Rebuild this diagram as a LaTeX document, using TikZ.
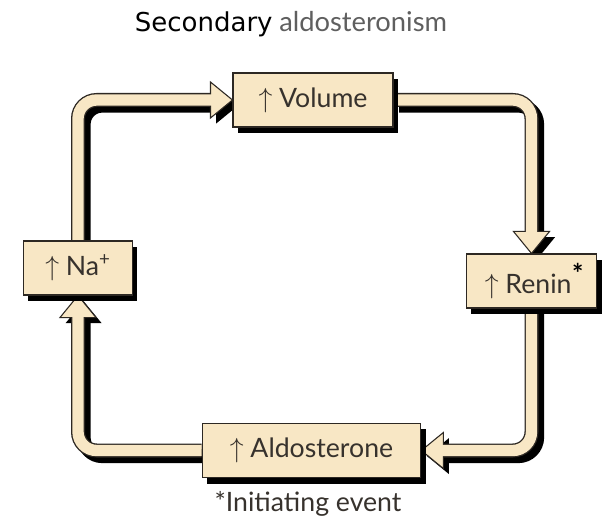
\documentclass[tikz,border=0pt]{standalone}
\usepackage{fontspec}
\setmainfont{Lato}
\newfontfamily\titlefont{DejaVu Sans}
\usetikzlibrary{backgrounds,shadows,calc}
\definecolor{cream}{RGB}{248,231,197}
\definecolor{edgecol}{RGB}{45,40,35}
\definecolor{txtcol}{RGB}{55,50,45}
\definecolor{greytxt}{RGB}{95,95,95}
\tikzset{
  boxnode/.style={draw=edgecol, line width=0.8pt, fill=cream, text=txtcol,
    font=\fontsize{20}{24}\selectfont, minimum height=40.5pt, inner sep=0pt,
    drop shadow={shadow xshift=3.5pt, shadow yshift=-4.5pt, fill=black, opacity=1}},
  tubeshadow/.style={line width=10.5pt, draw=black, rounded corners=14pt, shorten >=15.75pt},
  tubeedge/.style={line width=10.5pt, draw=edgecol, rounded corners=14pt, shorten >=15.75pt},
  tubefill/.style={line width=8.5pt, draw=cream, rounded corners=14pt, shorten >=15pt},
  headfill/.style={fill=cream, draw=edgecol, line width=0.8pt, line join=miter},
  headshadow/.style={fill=black},
  pics/tubehead/.style={code={\path[pic actions] (0,0) -- (-22,-18) -- (-22,18) -- cycle;}}
}
\begin{document}
\begin{tikzpicture}[x=0.75pt,y=-0.75pt]
\useasboundingbox (0,0) rectangle (606,520);

\node[anchor=base, font=\fontsize{19.5}{24}\selectfont] (title) at (291,32)
  {{\titlefont Secondary} \textcolor{greytxt}{\fontsize{20.5}{24}\selectfont aldosteronism}};

\node[boxnode, minimum width=120pt] (vol) at (313,100) {$\uparrow$ Volume};
\node[boxnode, minimum width=98pt] (ren) at (531.5,281) {\hspace{4pt}$\uparrow$ Renin\kern0.5pt\raisebox{0.75ex}{\color{black}\fontsize{20}{24}\selectfont\textbf{*}}};
\node[boxnode, minimum width=82pt] (na) at (78,268) {$\uparrow$ Na\textsuperscript{+}};
\node[boxnode, minimum width=164pt, minimum height=41pt] (ald) at (311.5,450.5) {$\uparrow$ Aldosterone};

\node[anchor=base, text=txtcol, font=\fontsize{20}{24}\selectfont] (foot) at (308,511) {*Initiating event};

\begin{pgfonlayer}{background}
  \fill[white] (0,0) rectangle (606,520);
  % shadows
  \begin{scope}[transform canvas={shift={(4.2pt,-4.2pt)}}]
    \draw[tubeshadow] (na.north) |- (vol.west);
    \draw[tubeshadow] (vol.east) -| (ren.north);
    \draw[tubeshadow] (ren.south) |- (ald.east);
    \draw[tubeshadow] (ald.west) -| (na.south);
    \pic[headshadow] at (vol.west) {tubehead};
    \pic[headshadow, rotate=-90] at (ren.north) {tubehead};
    \pic[headshadow, rotate=180] at (ald.east) {tubehead};
    \pic[headshadow, rotate=90] at (na.south) {tubehead};
  \end{scope}
  % outlines
  \draw[tubeedge] (na.north) |- (vol.west);
  \draw[tubeedge] (vol.east) -| (ren.north);
  \draw[tubeedge] (ren.south) |- (ald.east);
  \draw[tubeedge] (ald.west) -| (na.south);
  % heads
  \pic[headfill] at (vol.west) {tubehead};
  \pic[headfill, rotate=-90] at (ren.north) {tubehead};
  \pic[headfill, rotate=180] at (ald.east) {tubehead};
  \pic[headfill, rotate=90] at (na.south) {tubehead};
  % fills
  \draw[tubefill] (na.north) |- (vol.west);
  \draw[tubefill] (vol.east) -| (ren.north);
  \draw[tubefill] (ren.south) |- (ald.east);
  \draw[tubefill] (ald.west) -| (na.south);
\end{pgfonlayer}
\end{tikzpicture}
\end{document}
